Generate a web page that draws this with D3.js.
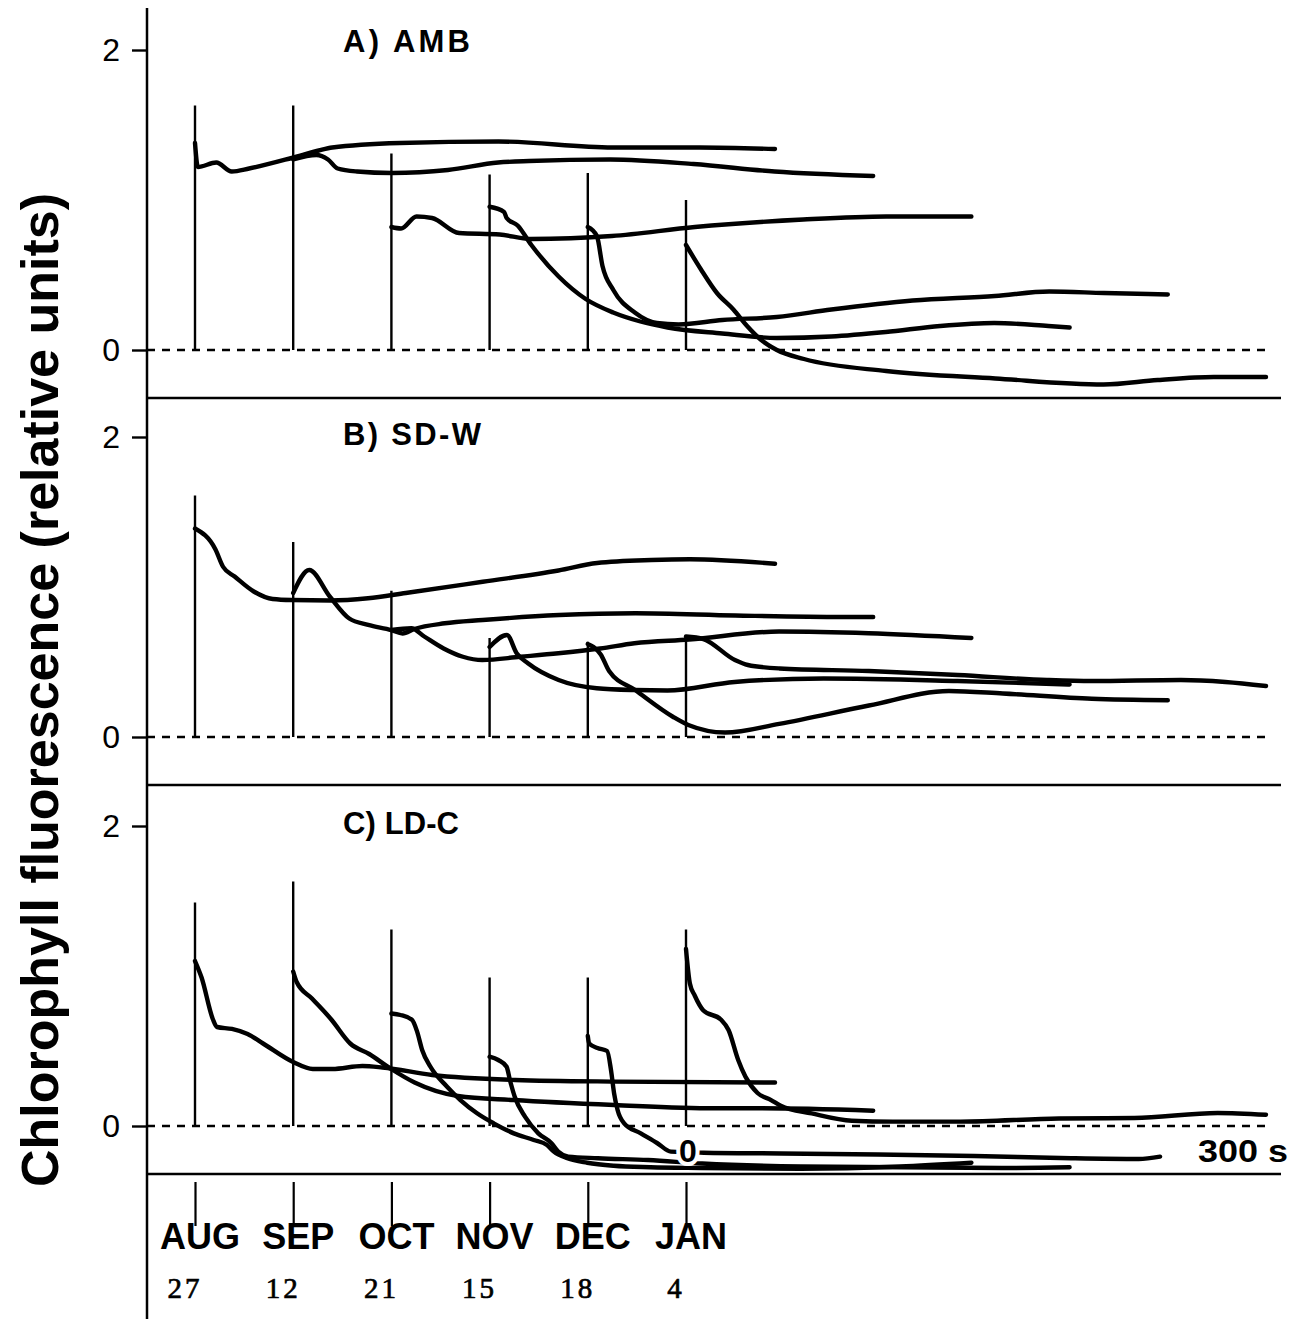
<!DOCTYPE html>
<html><head><meta charset="utf-8">
<script src="https://cdn.jsdelivr.net/npm/d3@7"></script>
<style>
html,body{margin:0;padding:0;background:#fff;}
svg{display:block;}
text{fill:#000;}
</style></head><body>
<svg id="chart" width="1303" height="1319" font-family="Liberation Sans, Arial, Helvetica, sans-serif"></svg>
<script>
// ---------- data ----------
const months = ["AUG", "SEP", "OCT", "NOV", "DEC", "JAN"];
const days = ["27", "12", "21", "15", "18", "4"];
const panelTitles = ["A) AMB", "B) SD-W", "C) LD-C"];
const yTickValues = [0, 2];
const timeLabels = ["0", "300 s"];
const yLabel = "Chlorophyll fluorescence (relative units)";

// height of the vertical start marker of each month trace (relative units)
const markerTopAMB = [1.63, 1.63, 1.31, 1.17, 1.18, 1.00];
const markerTopSDW = [1.61, 1.30, 0.975, 0.66, 0.635, 0.68];
const markerTopLDC = [1.49, 1.63, 1.31, 0.99, 0.99, 1.31];

// traces: [time (s), fluorescence]
const ambAug = [[0,1.38],[1.5,1.22],[11,1.25],[19,1.19],[28,1.21],[50,1.28],[64,1.33],[71,1.35],[106,1.38],[157,1.39],[216,1.35],[261,1.35],[300,1.34]];
const ambSep = [[0,1.27],[12,1.30],[18,1.27],[23,1.21],[33,1.19],[51,1.18],[80,1.20],[106,1.25],[122,1.26],[164,1.27],[207,1.24],[249,1.19],[300,1.16]];
const ambOct = [[0,0.82],[5,0.81],[13,0.89],[21,0.88],[35,0.78],[56,0.77],[72,0.74],[114,0.76],[157,0.82],[213,0.87],[256,0.89],[300,0.89]];
const ambNov = [[0,0.955],[7.5,0.92],[8.8,0.88],[14.5,0.83],[21.6,0.70],[35.7,0.49],[49.7,0.34],[63.9,0.25],[78,0.19],[92.1,0.15],[120.3,0.11],[148.5,0.08],[176.7,0.09],[204.9,0.12],[233,0.16],[261,0.18],[289,0.16],[300,0.15]];
const ambDec = [[0,0.82],[4.7,0.76],[7.6,0.56],[13.2,0.40],[24.3,0.25],[35.7,0.18],[47,0.17],[69.6,0.20],[97.8,0.22],[126,0.27],[168,0.33],[210.6,0.36],[238.7,0.39],[267,0.38],[300,0.37]];
const ambJan = [[0,0.70],[7.6,0.54],[16,0.38],[24.5,0.27],[31.6,0.16],[38.6,0.07],[47,0.0],[61,-0.06],[103.5,-0.14],[160,-0.19],[216,-0.23],[244,-0.20],[273,-0.18],[300,-0.18]];

const sdwAug = [[0,1.39],[10.6,1.25],[14.5,1.135],[20.5,1.07],[30.4,0.97],[40.2,0.92],[50,0.913],[70,0.91],[89.5,0.925],[109,0.96],[148.8,1.035],[188,1.11],[208,1.16],[236,1.18],[256,1.185],[300,1.155]];
const sdwSep = [[0,0.96],[8.3,1.113],[19,0.935],[29,0.79],[38.8,0.747],[50.7,0.713],[56.6,0.69],[62.6,0.72],[78.4,0.758],[98,0.78],[137.6,0.813],[177,0.825],[228.7,0.81],[284,0.80],[300,0.80]];
const sdwOct = [[0,0.713],[10.3,0.725],[17,0.67],[27,0.59],[37,0.535],[47,0.513],[66.7,0.535],[86.4,0.558],[108,0.59],[125.7,0.625],[154,0.65],[200.5,0.703],[246.8,0.692],[300,0.66]];
const sdwNov = [[0,0.60],[9,0.68],[14,0.558],[20,0.49],[35.7,0.38],[55.4,0.325],[75,0.313],[92,0.31],[126.7,0.367],[172.8,0.39],[242,0.373],[300,0.35]];
const sdwDec = [[0,0.62],[3,0.60],[6.7,0.55],[11,0.44],[24.5,0.313],[44,0.135],[52,0.08],[71,0.03],[99,0.088],[145.4,0.21],[186.8,0.307],[214.7,0.29],[260.7,0.255],[300,0.245]];
const sdwJan = [[0,0.67],[9,0.653],[25.3,0.513],[32,0.48],[48.4,0.457],[94.6,0.44],[140.6,0.413],[186.7,0.38],[210,0.373],[256,0.38],[279,0.367],[300,0.34]];

const ldcAug = [[0,1.10],[3.4,0.99],[9.3,0.71],[11.4,0.66],[19.1,0.647],[27.2,0.613],[35.2,0.55],[51,0.425],[60.9,0.38],[71,0.38],[86.6,0.40],[97,0.39],[122.7,0.34],[165.6,0.307],[217,0.296],[300,0.29]];
const ldcSep = [[0,1.03],[1.8,0.96],[9.7,0.85],[19.7,0.71],[29.5,0.55],[39.3,0.48],[50.7,0.38],[62.8,0.29],[85.2,0.20],[114,0.173],[166,0.14],[218,0.118],[242,0.118],[300,0.102]];
const ldcOct = [[0,0.75],[4.7,0.74],[10.7,0.707],[13.3,0.629],[15.9,0.507],[20.2,0.395],[28.8,0.262],[35.7,0.173],[44.3,0.085],[52.9,0.018],[63.3,-0.049],[73.6,-0.093],[80.5,-0.127],[84,-0.17],[91,-0.215],[101.3,-0.245],[115,-0.265],[134,-0.275],[160,-0.28],[211.7,-0.285],[263,-0.27],[300,-0.245]];
const ldcNov = [[0,0.462],[4.5,0.44],[8.8,0.395],[10.5,0.307],[13,0.195],[18.3,0.062],[25.2,-0.049],[32,-0.115],[35.5,-0.171],[40.7,-0.204],[56,-0.215],[82,-0.227],[110,-0.25],[161,-0.27],[213,-0.275],[265,-0.28],[300,-0.275]];
const ldcDec = [[0,0.60],[0.7,0.55],[5,0.52],[10,0.50],[12,0.373],[13.6,0.218],[15.4,0.107],[18.8,0.018],[27.4,-0.049],[36,-0.115],[43,-0.171],[60,-0.178],[100,-0.183],[150,-0.19],[200,-0.2],[250,-0.215],[285,-0.22],[296,-0.204]];
const ldcJan = [[0,1.18],[2,0.95],[4.5,0.87],[9,0.77],[18,0.71],[22,0.64],[27,0.44],[30.7,0.33],[37,0.22],[44,0.173],[49,0.135],[65,0.084],[85.8,0.035],[107,0.029],[142,0.029],[193,0.05],[232,0.053],[275,0.087],[300,0.075]];

const panels = [
  {title: panelTitles[0], markers: markerTopAMB, traces: [ambAug, ambSep, ambOct, ambNov, ambDec, ambJan]},
  {title: panelTitles[1], markers: markerTopSDW, traces: [sdwAug, sdwSep, sdwOct, sdwNov, sdwDec, sdwJan]},
  {title: panelTitles[2], markers: markerTopLDC, traces: [ldcAug, ldcSep, ldcOct, ldcNov, ldcDec, ldcJan]}
];

// ---------- layout ----------
const svg = d3.select("#chart");
const axisX = 147;
const zeroY = [350, 737, 1126];
const unitPx = 150;
const frameBottom = -0.32;
const xRight = 1281;
const titleWidths = [127, 138, 116];
const titleDy = [2, 8, 8];

const monthX = d3.scalePoint().domain(months).range([195, 686]);
const tScale = d3.scaleLinear().domain([0, 300]).range([0, 580]);

// main y axis line
svg.append("line").attr("x1", axisX).attr("x2", axisX).attr("y1", 8).attr("y2", 1319)
  .attr("stroke", "#000").attr("stroke-width", 2.5);

panels.forEach((p, i) => {
  const y = d3.scaleLinear().domain([0, 2]).range([zeroY[i], zeroY[i] - 2 * unitPx]);
  const g = svg.append("g");

  // frame bottom line
  g.append("line").attr("x1", axisX).attr("x2", xRight)
    .attr("y1", y(frameBottom)).attr("y2", y(frameBottom))
    .attr("stroke", "#000").attr("stroke-width", 2.6);

  // dashed zero line
  g.append("line").attr("x1", axisX).attr("x2", monthX("JAN") + tScale(300) + 4)
    .attr("y1", y(0)).attr("y2", y(0))
    .attr("stroke", "#000").attr("stroke-width", 2.4).attr("stroke-dasharray", "8,7");

  // y ticks
  const ax = g.append("g").attr("transform", `translate(${axisX},0)`)
    .call(d3.axisLeft(y).tickValues(yTickValues).tickSize(15).tickPadding(12).tickFormat(d3.format("d")));
  ax.select(".domain").remove();
  ax.selectAll(".tick line").attr("stroke", "#000").attr("stroke-width", 2.4);
  ax.selectAll(".tick text").attr("font-size", 32).attr("fill", "#000")
    .style("font-family", "Liberation Sans, Arial, sans-serif");

  // start markers
  g.selectAll(".marker").data(months).join("line")
    .attr("x1", m => monthX(m)).attr("x2", m => monthX(m))
    .attr("y1", y(0)).attr("y2", (m, j) => y(p.markers[j]))
    .attr("stroke", "#000").attr("stroke-width", 2.4);

  // traces
  const line = d3.line().curve(d3.curveMonotoneX);
  g.selectAll(".trace").data(p.traces).join("path")
    .attr("d", (tr, j) => line.x(d => monthX(months[j]) + tScale(d[0])).y(d => y(d[1]))(tr))
    .attr("fill", "none").attr("stroke", "#000").attr("stroke-width", 4.4)
    .attr("stroke-linejoin", "round").attr("stroke-linecap", "round");

  // panel title
  g.append("text").attr("x", 343).attr("y", y(2) + titleDy[i])
    .attr("font-size", 31).attr("font-weight", "bold")
    .attr("textLength", titleWidths[i]).attr("lengthAdjust", "spacing")
    .text(p.title);

  if (i === 2) {
    // time annotation
    g.append("text").attr("x", monthX("JAN") + tScale(0) + 2).attr("y", y(0) + 36)
      .attr("text-anchor", "middle").attr("font-size", 32).attr("font-weight", "bold")
      .attr("stroke", "#fff").attr("stroke-width", 8).attr("paint-order", "stroke")
      .text(timeLabels[0]);
    g.append("text").attr("x", monthX("JAN") + tScale(300) + 22).attr("y", y(0) + 36)
      .attr("text-anchor", "end").attr("font-size", 32).attr("font-weight", "bold")
      .attr("textLength", 90).attr("lengthAdjust", "spacingAndGlyphs")
      .text(timeLabels[1]);

    // month ticks below the last panel
    const bx = g.append("g").attr("transform", `translate(0,${y(frameBottom) + 8})`)
      .call(d3.axisBottom(monthX).tickSize(44).tickFormat(""));
    bx.select(".domain").remove();
    bx.selectAll(".tick line").attr("stroke", "#000").attr("stroke-width", 2.2);

    g.selectAll(".mlab").data(months).join("text")
      .attr("x", m => monthX(m) + 5).attr("y", 1249)
      .attr("text-anchor", "middle").attr("font-size", 36).attr("font-weight", "bold")
      .text(m => m);
    g.selectAll(".dlab").data(days).join("text")
      .attr("x", (d, j) => monthX(months[j]) - 10).attr("y", 1298)
      .attr("text-anchor", "middle").attr("font-size", 29)
      .style("font-family", "'Liberation Serif', 'DejaVu Serif', serif")
      .style("letter-spacing", "3px")
      .attr("stroke", "#000").attr("stroke-width", 0.7)
      .text(d => d);
  }
});

// y axis title
svg.append("text").attr("transform", "translate(58,690) rotate(-90)")
  .attr("text-anchor", "middle").attr("font-size", 52).attr("font-weight", "bold")
  .text(yLabel);
</script>
</body></html>
